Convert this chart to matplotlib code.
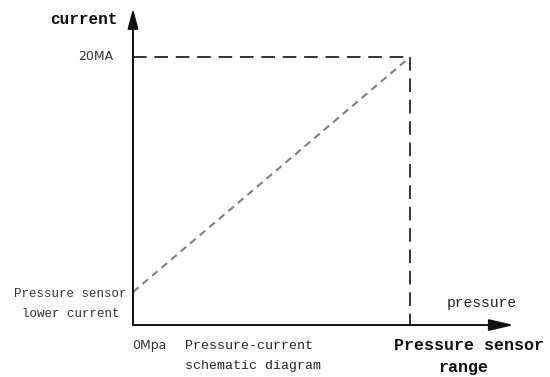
import matplotlib.pyplot as plt

# schematic values: pressure as fraction of sensor range, current in mA
pressure = [0.0, 1.0]
current = [4.0, 20.0]
x_axis_end = 1.375
y_axis_end = 23.3
axis_base = 1.75

fig = plt.figure(figsize=(5.5, 3.77), dpi=100)
ax = fig.add_axes([0, 0, 1, 1])
ax.set_xlim(-0.480, 1.505)
ax.set_ylim(-1.787, 23.88)
ax.axis('off')

mono = ['Liberation Mono', 'DejaVu Sans Mono']
narrow = ['Liberation Sans Narrow', 'DejaVu Sans']

# axes with arrow heads
ax.annotate('', xy=(pressure[0], y_axis_end), xytext=(pressure[0], axis_base),
            arrowprops=dict(arrowstyle='-|>,head_length=1.2,head_width=0.32',
                            color='#111111', lw=1.4, shrinkA=0, shrinkB=0))
ax.annotate('', xy=(x_axis_end, axis_base), xytext=(pressure[0], axis_base),
            arrowprops=dict(arrowstyle='-|>,head_length=1.5,head_width=0.35',
                            color='#111111', lw=1.4, shrinkA=0, shrinkB=0))

# 20mA level and full range dashed box
ax.plot([pressure[0], pressure[1]], [current[1], current[1]], color='#333333',
        lw=1.4, dashes=(7, 4))
ax.plot([pressure[1], pressure[1]], [current[1], axis_base], color='#333333',
        lw=1.4, dashes=(7, 4))

# linear pressure-current relation
ax.plot(pressure, current, color='#808080', lw=1.5, dashes=(3.5, 2.5))

# labels
ax.text(-0.177, 22.55, 'current', family=mono, fontsize=11.5, fontweight='bold',
        ha='center', va='center', color='#111111')
ax.text(-0.134, 20.05, '20MA', family=narrow,
        fontsize=9, ha='center', va='center', color='#333333')
ax.text(-0.227, 3.86, 'Pressure sensor', family=mono, fontsize=9,
        ha='center', va='center', color='#333333')
ax.text(-0.224, 2.5, 'lower current', family=mono, fontsize=9,
        ha='center', va='center', color='#333333')
ax.text(0.058, 0.39, '0Mpa', family=narrow,
        fontsize=9, ha='center', va='center', color='#333333')
ax.text(0.188, 0.34, 'Pressure-current', family=mono, fontsize=9.5,
        ha='left', va='center', color='#222222')
ax.text(0.188, -1.02, 'schematic diagram', family=mono, fontsize=9.5,
        ha='left', va='center', color='#222222')
ax.text(1.26, 3.25, 'pressure', family=mono, fontsize=10.5,
        ha='center', va='center', color='#222222')
ax.text(1.213, 0.39, 'Pressure sensor', family=mono, fontsize=12,
        fontweight='bold', ha='center', va='center', color='#111111')
ax.text(1.191, -1.17, 'range', family=mono, fontsize=12,
        fontweight='bold', ha='center', va='center', color='#111111')

plt.savefig('out.png', dpi=100)
